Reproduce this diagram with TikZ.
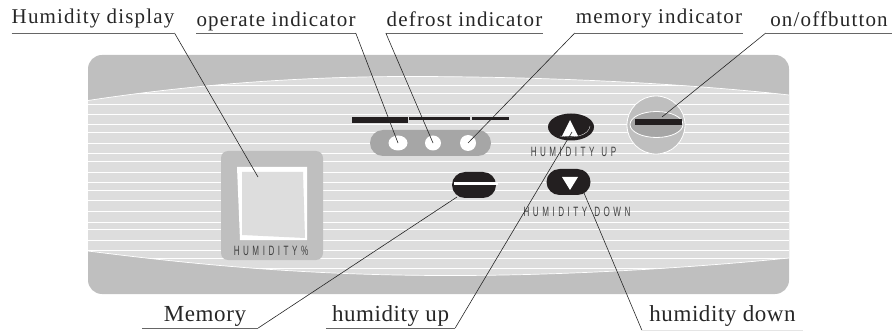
\documentclass[tikz,border=0pt]{standalone}
\usepackage{fontspec}
\usepackage{xcolor}
\usetikzlibrary{positioning,shapes.geometric}
\newfontfamily\callfont[LetterSpace=5.5]{Liberation Serif}
\newfontfamily\lowfont[LetterSpace=2.5]{Liberation Serif}
\newfontfamily\panelfont[LetterSpace=26,FakeStretch=0.6]{Liberation Sans}
\definecolor{bandgrey}{HTML}{BFBFBF}
\definecolor{lightgrey}{HTML}{DDDDDD}
\definecolor{pillgrey}{HTML}{A6A6A6}
\definecolor{inkblack}{HTML}{231F20}
\tikzset{
  lbl/.style={inner xsep=0pt,inner ysep=0pt,anchor=south,text depth=6pt,text=black!85,font=\callfont\fontsize{21}{21}\selectfont},
  lowlbl/.style={lbl,font=\lowfont\fontsize{23}{23}\selectfont},
  under/.style={draw=black!60,line width=.9pt},
  lead/.style={draw=black!85,line width=.6pt},
  paneltxt/.style={inner sep=0pt,text=black!75,font=\panelfont\fontsize{13.5}{13.5}\selectfont},
  led/.style={ellipse,fill=white,inner sep=0pt},
  btn/.style={fill=inkblack,inner sep=0pt,minimum width=44pt,minimum height=26pt,rounded corners=13pt},
  bar/.style={fill=inkblack,inner sep=0pt}
}
\begin{document}
\begin{tikzpicture}[x=1pt,y=-1pt]
  \useasboundingbox (0,0) rectangle (894,331);
  \fill[bandgrey,rounded corners=14pt] (88,55) rectangle (789,294);
  \path[fill=lightgrey] (88,100.5) .. controls (190,85) and (300,76) .. (420,76.5) .. controls (560,77) and (690,84) .. (789,95) -- (789,258) .. controls (690,268) and (560,276) .. (440,275.5) .. controls (300,275) and (190,264) .. (88,251) -- cycle;
  \begin{scope}
    \clip (88,100.5) .. controls (190,85) and (300,76) .. (420,76.5) .. controls (560,77) and (690,84) .. (789,95) -- (789,258) .. controls (690,268) and (560,276) .. (440,275.5) .. controls (300,275) and (190,264) .. (88,251) -- cycle;
    \foreach \yy in {85,93,104,114,124,132,143,153,161,172,182,190,200,211,222,229,240,250,258,268}
      \draw[white,line width=.9pt] (88,\yy) -- (789,\yy);
  \end{scope}
  \draw[white,line width=.7pt] (88,100.5) .. controls (190,85) and (300,76) .. (420,76.5) .. controls (560,77) and (690,84) .. (789,95);
  \draw[white,line width=.7pt] (88,251) .. controls (190,264) and (300,275) .. (440,275.5) .. controls (560,276) and (690,268) .. (789,258);

  % display
  \fill[bandgrey,rounded corners=7pt] (221,151) rectangle (323,260);
  \fill[white] (237,167) -- (307,167) -- (307,240) -- (240,240) -- cycle;
  \fill[lightgrey] (242,172) -- (303,172) -- (305,238) -- (242,235) -- cycle;
  \node[paneltxt] (humTxt) at (271,251) {HUMIDITY\%};
  \coordinate (dispTip) at (258,177);

  % indicators
  \node[bar,minimum width=56pt,minimum height=6pt] (barOp) at (380,120) {};
  \node[bar,minimum width=61pt,minimum height=3pt] (barDf) at (439.5,118.5) {};
  \node[bar,minimum width=37pt,minimum height=3pt] (barMm) at (490.5,118.5) {};
  \node[fill=pillgrey,inner sep=0pt,minimum width=121pt,minimum height=26pt,rounded corners=13pt] (pill) at (430.5,143) {};
  \node[led,minimum width=19pt,minimum height=15pt] (ledOp) at (398,143) {};
  \node[led,minimum width=16pt,minimum height=15pt] (ledDf) at (433,143) {};
  \node[led,minimum width=16pt,minimum height=16pt] (ledMm) at (468,143) {};

  % buttons
  \node[ellipse,fill=inkblack,inner sep=0pt,minimum width=46pt,minimum height=27pt] (btnUp) at (571,127) {};
  \fill[white] (570,120) -- (578,136) -- (562,136) -- cycle;
  \draw[white,line width=.3pt] (560,136) .. controls (575,139) and (589,135) .. (590,126);
  \node[paneltxt] (upTxt) at (573.5,151.5) {HUMIDITY\hspace{7pt}UP};
  \node[btn] (btnDn) at (568.5,182) {};
  \fill[white] (562,177) -- (578,177) -- (570,190) -- cycle;
  \node[paneltxt] (dnTxt) at (577,212) {HUMIDITY\hspace{7pt}DOWN};
  \node[btn] (btnMm) at (474,185) {};
  \node[fill=white,inner sep=0pt,minimum width=44pt,minimum height=3pt] (barWh) at (476,183.5) {};

  % on/off
  \node[circle,fill=bandgrey,draw=white,line width=.8pt,minimum size=58pt,inner sep=0pt] (onRound) at (656,125) {};
  \node[ellipse,fill=pillgrey,draw=white,line width=.8pt,minimum width=53pt,minimum height=26pt,inner sep=0pt] (onOval) at (656.5,124.5) {};
  \node[bar,minimum width=47pt,minimum height=6pt] (onBar) at (658.5,122) {};

  % labels
  \node[lbl,text depth=9pt,minimum width=158pt] (dispLbl) at (93,33) {Humidity display};
  \node[lbl,minimum width=158pt] (opLbl) at (276,33) {operate indicator};
  \node[lbl,minimum width=157pt] (dfLbl) at (464.5,33) {defrost indicator};
  \node[lbl,text depth=9pt,minimum width=168pt] (mmLbl) at (659,33) {memory indicator};
  \node[lbl,minimum width=126pt] (onLbl) at (829,33) {on/offbutton};
  \node[lowlbl,minimum width=116pt] (memLbl) at (200,328) {\hspace{10pt}Memory};
  \node[lowlbl,minimum width=129pt] (upLbl) at (390.5,328) {humidity up};
  \node[lowlbl,text depth=8pt,minimum width=161pt] (dnLbl) at (722.5,330) {humidity down};

  \foreach \nn in {dispLbl,opLbl,dfLbl,mmLbl,onLbl,memLbl,upLbl}
    \draw[under] (\nn.south west) -- (\nn.south east);
  \draw[under,draw=black!10] (dnLbl.south west) -- (dnLbl.south east);

  \coordinate (onTip) at (662,117);
  \coordinate (memTip) at (457,197);
  \coordinate (upTip) at (572,132);
  \coordinate (dnTip) at (584,193);
  \draw[lead] (dispLbl.south east) -- (dispTip);
  \draw[lead] (opLbl.south east) -- (ledOp.center);
  \draw[lead] (dfLbl.south west) -- (ledDf.center);
  \draw[lead] (mmLbl.south west) -- (ledMm.center);
  \draw[lead] (onLbl.south west) -- (onTip);
  \draw[lead] (memLbl.south east) -- (memTip);
  \draw[lead] (upLbl.south east) -- (upTip);
  \draw[lead] (dnLbl.south west) -- (dnTip);
\end{tikzpicture}
\end{document}
